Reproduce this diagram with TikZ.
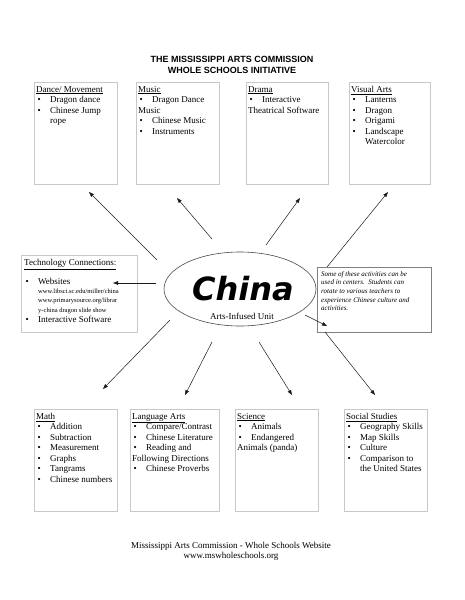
\documentclass[tikz,border=0pt]{standalone}
\usepackage{fontspec}
\setmainfont{Liberation Serif}
\setsansfont{Liberation Sans}
\newfontfamily\brushfont{DejaVu Sans}
\usepackage{tikz}
\usetikzlibrary{arrows.meta,positioning,shapes.geometric}
\definecolor{ink}{HTML}{1A1A1A}
\definecolor{boxgray}{HTML}{C8C8C8}
\definecolor{notegray}{HTML}{808080}
\tikzset{
  catbox/.style={draw=boxgray,line width=0.8pt,anchor=north west,
                 minimum width=83pt,minimum height=102pt,inner sep=0pt},
  cattext/.style={anchor=north west,align=left,inner xsep=2pt,inner ysep=4pt,
                  font=\fontsize{9}{10.5}\selectfont},
  notebox/.style={draw=notegray,line width=0.7pt,anchor=north west,
                  minimum width=114pt,minimum height=65pt,inner sep=0pt},
  flowarr/.style={-{Triangle[length=5pt,width=3.6pt]},line width=0.5pt,color=ink}
}
\newcommand{\itm}{\makebox[14pt][l]{\hspace{1.5pt}\textbullet}}
\newcommand{\ind}{\hspace*{14pt}}

\begin{document}
\begin{tikzpicture}[x=1pt,y=-1pt]
  \useasboundingbox (0,0) rectangle (464,600);
  % title
  \node[font=\sffamily\bfseries\fontsize{9}{10}\selectfont] (title1) at (232,59) {THE MISSISSIPPI ARTS COMMISSION};
  \node[font=\sffamily\bfseries\fontsize{9}{10}\selectfont] (title2) at (232,70) {WHOLE SCHOOLS INITIATIVE};
  % top row
  \node[catbox] (dance) at (34,82) {};
  \node[cattext] at (dance.north west) {\underline{Dance/ Movement}\\ \itm Dragon dance\\ \itm Chinese Jump\\ \ind rope};
  \node[catbox] (music) at (136,82) {};
  \node[cattext] at (music.north west) {\underline{Music}\\ \itm Dragon Dance\\ Music\\ \itm Chinese Music\\ \itm Instruments};
  \node[catbox,minimum width=82pt] (drama) at (246,82) {};
  \node[cattext] at (drama.north west) {\underline{Drama}\\ \itm Interactive\\ Theatrical Software};
  \node[catbox,minimum width=81pt] (visual) at (349,82) {};
  \node[cattext] at (visual.north west) {\underline{Visual Arts}\\ \itm Lanterns\\ \itm Dragon\\ \itm Origami\\ \itm Landscape\\ \ind Watercolor};
  % middle
  \node[catbox,minimum width=116pt,minimum height=77pt] (tech) at (21,255) {};
  \node[cattext,inner xsep=3pt] at (tech.north west) {\underline{Technology Connections:}\\[9pt]
    \itm Websites\\[-2pt]
    \ind{\fontsize{6.5}{9}\selectfont www.libsci.sc.edu/miller/china}\\[-1pt]
    \ind{\fontsize{6.5}{9}\selectfont www.primarysource.org/librar}\\[-1pt]
    \ind{\fontsize{6.5}{9}\selectfont y-china dragon slide show}\\[0pt]
    \itm Interactive Software};
  \node[draw=ink!80,line width=0.6pt,ellipse,minimum width=152pt,minimum height=74pt] (unit) at (240,289) {};
  \node[font=\brushfont\bfseries\itshape\fontsize{32}{32}\selectfont] (china) at (243,289) {China};
  \node[font=\fontsize{9}{10}\selectfont] (unitname) at (242,316) {Arts-Infused Unit};
  \node[notebox] (note) at (317,267) {};
  \node[anchor=north west,align=left,inner sep=4pt,font=\itshape\fontsize{7}{8.7}\selectfont]
    at (note.north west) {Some of these activities can be\\ used in centers.\ \ Students can\\ rotate to various teachers to\\ experience Chinese culture and\\ activities.};
  % bottom row
  \node[catbox] (math) at (34,409) {};
  \node[cattext] at (math.north west) {\underline{Math}\\ \itm Addition\\ \itm Subtraction\\ \itm Measurement\\ \itm Graphs\\ \itm Tangrams\\ \itm Chinese numbers};
  \node[catbox,minimum width=89pt] (lang) at (130,409) {};
  \node[cattext] at (lang.north west) {\underline{Language Arts}\\ \itm Compare/Contrast\\ \itm Chinese Literature\\ \itm Reading and\\ Following Directions\\ \itm Chinese Proverbs};
  \node[catbox] (science) at (235,409) {};
  \node[cattext] at (science.north west) {\underline{Science}\\ \itm Animals\\ \itm Endangered\\ Animals (panda)};
  \node[catbox] (social) at (344,409) {};
  \node[cattext] at (social.north west) {\underline{Social Studies}\\ \itm Geography Skills\\ \itm Map Skills\\ \itm Culture\\ \itm Comparison to\\ \ind the United States};
  % arrows
  \foreach \nm/\from/\to in {dn/{157,260}/{89,192}, mu/{212,239}/{177,198},
      dr/{266,245}/{300,198}, va/{327,267}/{388,192}, te/{156,283}/{113,283},
      ma/{170,320}/{103,389}, la/{212,342}/{185,395}, sc/{259,342}/{292,395},
      ss/{325,332}/{375,395}, no/{305,315}/{327,326}}{
    \coordinate (\nm-s) at (\from);
    \coordinate (\nm-t) at (\to);
    \draw[flowarr] (\nm-s) -- (\nm-t);
  }
  % footer
  \node[font=\fontsize{9}{10}\selectfont] (foot1) at (231,546) {Mississippi Arts Commission - Whole Schools Website};
  \node[font=\fontsize{9}{10}\selectfont] (foot2) at (231,556) {www.mswholeschools.org};
\end{tikzpicture}
\end{document}
